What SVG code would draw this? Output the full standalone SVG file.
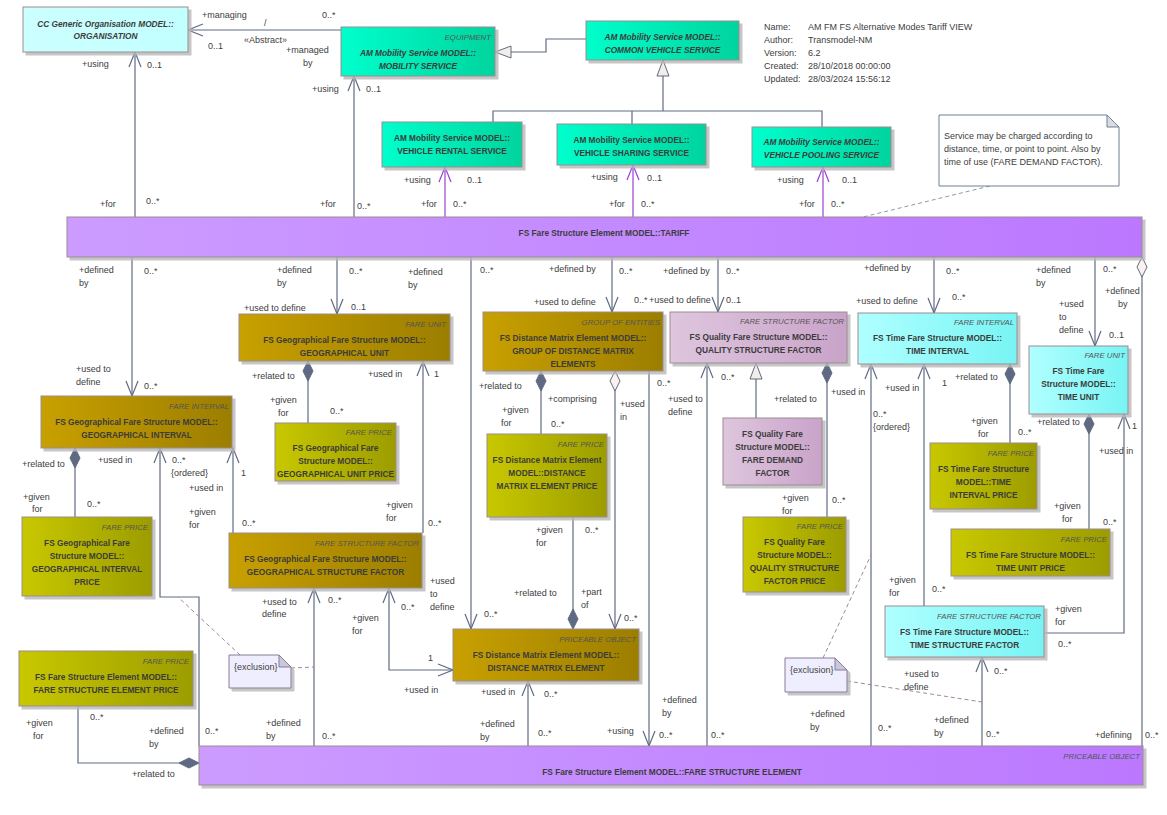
<svg xmlns="http://www.w3.org/2000/svg" width="1167" height="815" viewBox="0 0 1167 815">
<style>
.bx{stroke:#9c8c90;stroke-width:1;filter:url(#sh)}
.nm{font-family:"Liberation Sans",Arial,sans-serif;font-size:8.3px;font-weight:bold;fill:#3c3c3c;text-anchor:middle}
.it{font-style:italic}
.st{font-family:"Liberation Sans",Arial,sans-serif;font-size:7.8px;font-style:italic;fill:#555;text-anchor:end}
.l{font-family:"Liberation Sans",Arial,sans-serif;font-size:9px;fill:#404040}
.c{fill:none;stroke:#5f6a82;stroke-width:1.2}
.p{fill:none;stroke:#9a3fd6;stroke-width:1.2}
.d1{fill:none;stroke:#8a9aa8;stroke-width:1;stroke-dasharray:4,3}
.d2{fill:none;stroke:#a0889a;stroke-width:1;stroke-dasharray:4,3}
.ae{marker-end:url(#ao)}
.pe{marker-end:url(#po)}
.ds{marker-start:url(#df)}
</style>
<defs>
<filter id="sh" x="-5%" y="-5%" width="115%" height="130%"><feDropShadow dx="3" dy="3" stdDeviation="0.5" flood-color="#b8b8b8" flood-opacity="0.8"/></filter>
<linearGradient id="gOrg" x1="0" x2="1" y1="0" y2="0"><stop offset="0" stop-color="#ccffff"/><stop offset="1" stop-color="#c2ffff"/></linearGradient>
<linearGradient id="gMob" x1="0" x2="1" y1="0" y2="0"><stop offset="0" stop-color="#00ffcc"/><stop offset="1" stop-color="#00d49e"/></linearGradient>
<linearGradient id="gPur" x1="0" x2="1" y1="0" y2="0"><stop offset="0" stop-color="#cc9cff"/><stop offset="1" stop-color="#bb78ff"/></linearGradient>
<linearGradient id="gGold" x1="0" x2="1" y1="0" y2="0"><stop offset="0" stop-color="#c8a000"/><stop offset="1" stop-color="#9c7e00"/></linearGradient>
<linearGradient id="gPr" x1="0" x2="1" y1="0" y2="0"><stop offset="0" stop-color="#c8c800"/><stop offset="1" stop-color="#9c9c00"/></linearGradient>
<linearGradient id="gQ" x1="0" x2="1" y1="0" y2="0"><stop offset="0" stop-color="#dec6de"/><stop offset="1" stop-color="#c9a3c9"/></linearGradient>
<linearGradient id="gT" x1="0" x2="1" y1="0" y2="0"><stop offset="0" stop-color="#b0ffff"/><stop offset="1" stop-color="#78f4f4"/></linearGradient>
<marker id="ao" markerWidth="1" markerHeight="1" refX="0" refY="0" orient="auto" markerUnits="userSpaceOnUse" style="overflow:visible"><path d="M-15,-6 L0,0 L-15,6" fill="none" stroke="#5f6a82" stroke-width="1.2"/></marker>
<marker id="aos" markerWidth="1" markerHeight="1" refX="0" refY="0" orient="auto-start-reverse" markerUnits="userSpaceOnUse" style="overflow:visible"><path d="M-15,-6 L0,0 L-15,6" fill="none" stroke="#5f6a82" stroke-width="1.2"/></marker>
<marker id="po" markerWidth="1" markerHeight="1" refX="0" refY="0" orient="auto" markerUnits="userSpaceOnUse" style="overflow:visible"><path d="M-15,-6 L0,0 L-15,6" fill="none" stroke="#9a3fd6" stroke-width="1.2"/></marker>
<marker id="df" markerWidth="1" markerHeight="1" refX="0" refY="0" orient="auto" markerUnits="userSpaceOnUse" style="overflow:visible"><path d="M0,0 L10,-5 L20,0 L10,5 Z" fill="#5f6a82" stroke="#5f6a82" stroke-width="1"/></marker>
<marker id="dh" markerWidth="1" markerHeight="1" refX="0" refY="0" orient="auto" markerUnits="userSpaceOnUse" style="overflow:visible"><path d="M0,0 L10,-5 L20,0 L10,5 Z" fill="#fbf2f0" stroke="#5f6a82" stroke-width="1"/></marker>
<marker id="tr" markerWidth="1" markerHeight="1" refX="0" refY="0" orient="auto" markerUnits="userSpaceOnUse" style="overflow:visible"><path d="M0,0 L-16,-6 L-16,6 Z" fill="#f4ece8" stroke="#5f6a82" stroke-width="1"/></marker>
</defs>
<rect width="1167" height="815" fill="#ffffff"/>

<g id="connectors">
<path class="c ae" d="M341,30 L188,30"/>
<path class="c ae" d="M135,217 L135,52"/>
<path class="c ae" d="M354,217 L354,76"/>
<path class="p pe" d="M445,217 L445,167"/>
<path class="p pe" d="M633,217 L633,165"/>
<path class="p pe" d="M823,217 L823,167"/>
<path class="c" d="M586,39 L546,39 L546,52 L495,52" marker-end="url(#tr)"/>
<path class="c" d="M493,123 L493,111 L822,111 L822,127 M632,124 L632,111"/>
<path class="c" d="M663,111 L663,60" marker-end="url(#tr)"/>
<path class="c ae" d="M132,257 L132,396"/>
<path class="c ae" d="M337,257 L337,314"/>
<path class="c ds" d="M308,361 L308,423"/>
<path class="c ae" d="M423,533 L423,361"/>
<path class="c ae" d="M471,257 L471,629"/>
<path class="c ae" d="M199,746 L199,597 L160,597 L160,448"/>
<path class="c ds" d="M75,448 L75,517"/>
<path class="c ae" d="M233,533 L233,448"/>
<path class="c ae" d="M314,746 L314,588"/>
<path class="c ae" d="M389,588 L389,670 L453,670" marker-start="url(#aos)"/>
<path class="c ds" d="M541,371 L541,434"/>
<path class="c ae" d="M615,371 L615,629" marker-start="url(#dh)"/>
<path class="c ds" d="M573,629 L573,517"/>
<path class="c ae" d="M649,371 L649,746"/>
<path class="c ae" d="M612,257 L612,312"/>
<path class="c ae" d="M718,257 L718,312"/>
<path class="c ae" d="M707,746 L707,363"/>
<path class="c" d="M756,418 L756,363" marker-end="url(#tr)"/>
<path class="c ds" d="M827,363 L827,517"/>
<path class="c ae" d="M934,257 L934,313"/>
<path class="c ae" d="M1095,257 L1095,346"/>
<path class="c" d="M1142,257 L1142,746" marker-start="url(#dh)"/>
<path class="c ae" d="M871,746 L871,364"/>
<path class="c ae" d="M924,606 L924,364"/>
<path class="c ds" d="M1010,364 L1010,443"/>
<path class="c ds" d="M1089,414 L1089,529"/>
<path class="c ae" d="M1044,633 L1124,633 L1124,414"/>
<path class="c ae" d="M982,746 L982,657"/>
<path class="c ae" d="M528,746 L528,681"/>
<path class="c ds" d="M199,763 L78,763 L78,706"/>
<path class="d1" d="M990,186 L863,217"/>
<path class="d2" d="M240,655 L178,597 M291,668 L314,667"/>
<path class="d2" d="M823,658 L871,555 M847,681 L982,702"/>
</g>

<g id="connector-labels">
<text class="l" x="202" y="18">+managing</text><text class="l" x="264" y="26">/</text><text class="l" x="322" y="18">0..*</text>
<text class="l" x="244" y="43">«Abstract»</text><text class="l" x="208" y="49">0..1</text><text class="l" x="286" y="53">+managed</text><text class="l" x="303" y="66">by</text>
<text class="l" x="82" y="67">+using</text><text class="l" x="147" y="68">0..1</text><text class="l" x="100" y="207">+for</text><text class="l" x="146" y="204">0..*</text>
<text class="l" x="312" y="92">+using</text><text class="l" x="366" y="92">0..1</text><text class="l" x="320" y="207">+for</text><text class="l" x="357" y="209">0..*</text>
<text class="l" x="404" y="183">+using</text><text class="l" x="467" y="183">0..1</text><text class="l" x="421" y="207">+for</text><text class="l" x="453" y="207">0..*</text>
<text class="l" x="591" y="180">+using</text><text class="l" x="647" y="181">0..1</text><text class="l" x="609" y="207">+for</text><text class="l" x="641" y="207">0..*</text>
<text class="l" x="777" y="183">+using</text><text class="l" x="842" y="183">0..1</text><text class="l" x="799" y="207">+for</text><text class="l" x="831" y="207">0..*</text>
<text class="l" x="79" y="273">+defined</text><text class="l" x="79" y="286">by</text><text class="l" x="144" y="274">0..*</text>
<text class="l" x="76" y="372">+used to</text><text class="l" x="76" y="385">define</text><text class="l" x="144" y="389">0..*</text>
<text class="l" x="277" y="273">+defined</text><text class="l" x="277" y="286">by</text><text class="l" x="349" y="274">0..*</text>
<text class="l" x="244" y="311">+used to define</text><text class="l" x="351" y="310">0..1</text>
<text class="l" x="252" y="379">+related to</text><text class="l" x="270" y="403">+given</text><text class="l" x="278" y="416">for</text><text class="l" x="330" y="414">0..*</text>
<text class="l" x="368" y="377">+used in</text><text class="l" x="434" y="377">1</text><text class="l" x="386" y="508">+given</text><text class="l" x="386" y="521">for</text><text class="l" x="428" y="526">0..*</text>
<text class="l" x="408" y="275">+defined</text><text class="l" x="408" y="288">by</text><text class="l" x="480" y="273">0..*</text>
<text class="l" x="430" y="584">+used</text><text class="l" x="430" y="597">to</text><text class="l" x="430" y="610">define</text><text class="l" x="484" y="617">0..*</text>
<text class="l" x="98" y="463">+used in</text><text class="l" x="172" y="463">0..*</text><text class="l" x="171" y="476">{ordered}</text>
<text class="l" x="149" y="734">+defined</text><text class="l" x="149" y="747">by</text><text class="l" x="205" y="734">0..*</text>
<text class="l" x="22" y="467">+related to</text><text class="l" x="23" y="500">+given</text><text class="l" x="32" y="512">for</text><text class="l" x="87" y="507">0..*</text>
<text class="l" x="241" y="476">1</text><text class="l" x="189" y="491">+used in</text><text class="l" x="189" y="515">+given</text><text class="l" x="189" y="528">for</text><text class="l" x="242" y="526">0..*</text>
<text class="l" x="262" y="605">+used to</text><text class="l" x="262" y="617">define</text><text class="l" x="328" y="603">0..*</text>
<text class="l" x="266" y="726">+defined</text><text class="l" x="266" y="739">by</text><text class="l" x="322" y="739">0..*</text>
<text class="l" x="401" y="610">0..*</text><text class="l" x="352" y="621">+given</text><text class="l" x="352" y="634">for</text><text class="l" x="428" y="661">1</text><text class="l" x="404" y="693">+used in</text>
<text class="l" x="479" y="389">+related to</text><text class="l" x="548" y="402">+comprising</text><text class="l" x="502" y="413">+given</text><text class="l" x="501" y="426">for</text><text class="l" x="551" y="427">0..*</text>
<text class="l" x="620" y="407">+used</text><text class="l" x="620" y="420">in</text><text class="l" x="624" y="621">0..*</text>
<text class="l" x="536" y="533">+given</text><text class="l" x="536" y="546">for</text><text class="l" x="585" y="533">0..*</text>
<text class="l" x="514" y="596">+related to</text><text class="l" x="581" y="595">+part</text><text class="l" x="581" y="608">of</text>
<text class="l" x="657" y="386">0..*</text><text class="l" x="607" y="734">+using</text><text class="l" x="659" y="738">0..*</text>
<text class="l" x="549" y="272">+defined by</text><text class="l" x="619" y="274">0..*</text><text class="l" x="534" y="305">+used to define</text><text class="l" x="634" y="303">0..*</text>
<text class="l" x="663" y="274">+defined by</text><text class="l" x="726" y="274">0..*</text><text class="l" x="649" y="303">+used to define</text><text class="l" x="726" y="303">0..1</text>
<text class="l" x="721" y="380">0..*</text><text class="l" x="668" y="402">+used to</text><text class="l" x="668" y="415">define</text>
<text class="l" x="662" y="703">+defined</text><text class="l" x="662" y="716">by</text><text class="l" x="711" y="738">0..*</text>
<text class="l" x="774" y="402">+related to</text><text class="l" x="782" y="501">+given</text><text class="l" x="782" y="514">for</text><text class="l" x="832" y="503">0..*</text>
<text class="l" x="864" y="271">+defined by</text><text class="l" x="946" y="274">0..*</text><text class="l" x="856" y="304">+used to define</text><text class="l" x="952" y="300">0..*</text>
<text class="l" x="1036" y="273">+defined</text><text class="l" x="1036" y="286">by</text><text class="l" x="1103" y="272">0..*</text>
<text class="l" x="1059" y="307">+used</text><text class="l" x="1059" y="320">to</text><text class="l" x="1059" y="333">define</text><text class="l" x="1109" y="338">0..1</text>
<text class="l" x="1105" y="294">+defined</text><text class="l" x="1118" y="307">by</text><text class="l" x="1095" y="738">+defining</text><text class="l" x="1145" y="738">0..*</text>
<text class="l" x="831" y="395">+used in</text><text class="l" x="873" y="417">0..*</text><text class="l" x="873" y="430">{ordered}</text>
<text class="l" x="810" y="717">+defined</text><text class="l" x="810" y="730">by</text><text class="l" x="878" y="731">0..*</text>
<text class="l" x="885" y="391">+used in</text><text class="l" x="942" y="386">1</text><text class="l" x="889" y="583">+given</text><text class="l" x="889" y="596">for</text><text class="l" x="932" y="592">0..*</text>
<text class="l" x="955" y="380">+related to</text><text class="l" x="971" y="424">+given</text><text class="l" x="978" y="437">for</text><text class="l" x="1018" y="435">0..*</text>
<text class="l" x="1037" y="425">+related to</text><text class="l" x="1054" y="509">+given</text><text class="l" x="1062" y="522">for</text><text class="l" x="1103" y="525">0..*</text>
<text class="l" x="1132" y="429">1</text><text class="l" x="1099" y="454">+used in</text><text class="l" x="1055" y="612">+given</text><text class="l" x="1055" y="625">for</text><text class="l" x="1058" y="647">0..*</text>
<text class="l" x="904" y="677">+used to</text><text class="l" x="904" y="690">define</text><text class="l" x="994" y="674">0..*</text>
<text class="l" x="934" y="723">+defined</text><text class="l" x="934" y="736">by</text><text class="l" x="986" y="737">0..*</text>
<text class="l" x="481" y="695">+used in</text><text class="l" x="544" y="697">0..*</text><text class="l" x="480" y="727">+defined</text><text class="l" x="480" y="740">by</text><text class="l" x="538" y="736">0..*</text>
<text class="l" x="26" y="726">+given</text><text class="l" x="33" y="739">for</text><text class="l" x="90" y="720">0..*</text><text class="l" x="132" y="777">+related to</text>
</g>

<g id="info">
<text class="l" x="764" y="30">Name:</text><text class="l" x="808" y="30">AM FM FS Alternative Modes Tariff VIEW</text>
<text class="l" x="764" y="43">Author:</text><text class="l" x="808" y="43">Transmodel-NM</text>
<text class="l" x="764" y="56">Version:</text><text class="l" x="808" y="56">6.2</text>
<text class="l" x="764" y="69">Created:</text><text class="l" x="808" y="69">28/10/2018 00:00:00</text>
<text class="l" x="764" y="82">Updated:</text><text class="l" x="808" y="82">28/03/2024 15:56:12</text>
</g>

<g id="note-service">
<path d="M939,115 L1107,115 L1119,127 L1119,186 L939,186 Z" fill="#ffffff" stroke="#6f8090" stroke-width="1"/>
<path d="M1107,115 L1107,127 L1119,127 Z" fill="#d8dde4" stroke="#6f8090" stroke-width="1"/>
<text class="l" x="944" y="139">Service may be charged according to</text>
<text class="l" x="944" y="152">distance, time, or point to point. Also by</text>
<text class="l" x="944" y="165">time of use (FARE DEMAND FACTOR).</text>
</g>

<g id="organisation">
<rect class="bx" x="23" y="7" width="165" height="45" fill="url(#gOrg)"/>
<text class="nm it" x="105.5" y="27">CC Generic Organisation MODEL::</text>
<text class="nm it" x="105.5" y="39">ORGANISATION</text>
</g>
<g id="mobility-service">
<rect class="bx" x="341" y="27" width="154" height="49" fill="url(#gMob)"/>
<text class="st" x="491" y="40">EQUIPMENT</text>
<text class="nm it" x="418" y="56">AM Mobility Service MODEL::</text>
<text class="nm it" x="418" y="69">MOBILITY SERVICE</text>
</g>
<g id="common-vehicle-service">
<rect class="bx" x="586" y="21" width="153" height="39" fill="url(#gMob)"/>
<text class="nm it" x="662.5" y="40">AM Mobility Service MODEL::</text>
<text class="nm it" x="662.5" y="53">COMMON VEHICLE SERVICE</text>
</g>
<g id="vehicle-rental-service">
<rect class="bx" x="382" y="122" width="140" height="45" fill="url(#gMob)"/>
<text class="nm" x="452" y="141">AM Mobility Service MODEL::</text>
<text class="nm" x="452" y="154">VEHICLE RENTAL SERVICE</text>
</g>
<g id="vehicle-sharing-service">
<rect class="bx" x="557" y="124" width="149" height="41" fill="url(#gMob)"/>
<text class="nm" x="631.5" y="143">AM Mobility Service MODEL::</text>
<text class="nm" x="631.5" y="156">VEHICLE SHARING SERVICE</text>
</g>
<g id="vehicle-pooling-service">
<rect class="bx" x="752" y="127" width="139" height="40" fill="url(#gMob)"/>
<text class="nm it" x="821.5" y="145">AM Mobility Service MODEL::</text>
<text class="nm it" x="821.5" y="158">VEHICLE POOLING SERVICE</text>
</g>
<g id="tariff">
<rect class="bx" x="67" y="217" width="1075" height="40" fill="url(#gPur)"/>
<text class="nm" x="604" y="236">FS Fare Structure Element MODEL::TARIFF</text>
</g>
<g id="geographical-unit">
<rect class="bx" x="239" y="314" width="211" height="47" fill="url(#gGold)"/>
<text class="st" x="446" y="327">FARE UNIT</text>
<text class="nm" x="344.5" y="343">FS Geographical Fare Structure MODEL::</text>
<text class="nm" x="344.5" y="356">GEOGRAPHICAL UNIT</text>
</g>
<g id="geographical-interval">
<rect class="bx" x="41" y="396" width="191" height="52" fill="url(#gGold)"/>
<text class="st" x="229" y="409">FARE INTERVAL</text>
<text class="nm" x="136.5" y="425">FS Geographical Fare Structure MODEL::</text>
<text class="nm" x="136.5" y="438">GEOGRAPHICAL INTERVAL</text>
</g>
<g id="geographical-unit-price">
<rect class="bx" x="275" y="423" width="121" height="58" fill="url(#gPr)"/>
<text class="st" x="392" y="435">FARE PRICE</text>
<text class="nm" x="335.5" y="451">FS Geographical Fare</text>
<text class="nm" x="335.5" y="464">Structure MODEL::</text>
<text class="nm" x="335.5" y="477">GEOGRAPHICAL UNIT PRICE</text>
</g>
<g id="geographical-interval-price">
<rect class="bx" x="22" y="517" width="130" height="79" fill="url(#gPr)"/>
<text class="st" x="148" y="530">FARE PRICE</text>
<text class="nm" x="87" y="546">FS Geographical Fare</text>
<text class="nm" x="87" y="559">Structure MODEL::</text>
<text class="nm" x="87" y="572">GEOGRAPHICAL INTERVAL</text>
<text class="nm" x="87" y="585">PRICE</text>
</g>
<g id="geographical-structure-factor">
<rect class="bx" x="229" y="533" width="193" height="55" fill="url(#gGold)"/>
<text class="st" x="419" y="546">FARE STRUCTURE FACTOR</text>
<text class="nm" x="325.5" y="562">FS Geographical Fare Structure MODEL::</text>
<text class="nm" x="325.5" y="575">GEOGRAPHICAL STRUCTURE FACTOR</text>
</g>
<g id="fare-structure-element-price">
<rect class="bx" x="19" y="651" width="174" height="55" fill="url(#gPr)"/>
<text class="st" x="189" y="664">FARE PRICE</text>
<text class="nm" x="106" y="680">FS Fare Structure Element MODEL::</text>
<text class="nm" x="106" y="693">FARE STRUCTURE ELEMENT PRICE</text>
</g>
<g id="exclusion-1">
<path d="M229,655 L279,655 L291,667 L291,688 L229,688 Z" fill="#eeeeff" stroke="#8a7a96" stroke-width="1" filter="url(#sh)"/>
<path d="M279,655 L279,667 L291,667 Z" fill="#c8c8d8" stroke="#8a7a96" stroke-width="1"/>
<text class="l" x="234" y="670">{exclusion}</text>
</g>
<g id="fare-structure-element">
<rect class="bx" x="199" y="746" width="944" height="39" fill="url(#gPur)"/>
<text class="st" x="1140" y="759">PRICEABLE OBJECT</text>
<text class="nm" x="672" y="775">FS Fare Structure Element MODEL::FARE STRUCTURE ELEMENT</text>
</g>
<g id="group-of-distance-matrix-elements">
<rect class="bx" x="483" y="312" width="180" height="59" fill="url(#gGold)"/>
<text class="st" x="660" y="325">GROUP OF ENTITIES</text>
<text class="nm" x="573" y="341">FS Distance Matrix Element MODEL::</text>
<text class="nm" x="573" y="354">GROUP OF DISTANCE MATRIX</text>
<text class="nm" x="573" y="367">ELEMENTS</text>
</g>
<g id="quality-structure-factor">
<rect class="bx" x="670" y="312" width="177" height="51" fill="url(#gQ)"/>
<text class="st" x="844" y="324">FARE STRUCTURE FACTOR</text>
<text class="nm" x="758.5" y="340">FS Quality Fare Structure MODEL::</text>
<text class="nm" x="758.5" y="353">QUALITY STRUCTURE FACTOR</text>
</g>
<g id="fare-demand-factor">
<rect class="bx" x="723" y="418" width="99" height="67" fill="url(#gQ)"/>
<text class="nm" x="772.5" y="437">FS Quality Fare</text>
<text class="nm" x="772.5" y="450">Structure MODEL::</text>
<text class="nm" x="772.5" y="463">FARE DEMAND</text>
<text class="nm" x="772.5" y="476">FACTOR</text>
</g>
<g id="distance-matrix-element-price">
<rect class="bx" x="487" y="434" width="120" height="83" fill="url(#gPr)"/>
<text class="st" x="604" y="447">FARE PRICE</text>
<text class="nm" x="547" y="463">FS Distance Matrix Element</text>
<text class="nm" x="547" y="476">MODEL::DISTANCE</text>
<text class="nm" x="547" y="489">MATRIX ELEMENT PRICE</text>
</g>
<g id="quality-structure-factor-price">
<rect class="bx" x="743" y="517" width="103" height="75" fill="url(#gPr)"/>
<text class="st" x="843" y="529">FARE PRICE</text>
<text class="nm" x="794.5" y="545">FS Quality Fare</text>
<text class="nm" x="794.5" y="558">Structure MODEL::</text>
<text class="nm" x="794.5" y="571">QUALITY STRUCTURE</text>
<text class="nm" x="794.5" y="584">FACTOR PRICE</text>
</g>
<g id="distance-matrix-element">
<rect class="bx" x="453" y="629" width="186" height="52" fill="url(#gGold)"/>
<text class="st" x="636" y="642">PRICEABLE OBJECT</text>
<text class="nm" x="546" y="658">FS Distance Matrix Element MODEL::</text>
<text class="nm" x="546" y="671">DISTANCE MATRIX ELEMENT</text>
</g>
<g id="time-interval">
<rect class="bx" x="858" y="313" width="159" height="51" fill="url(#gT)"/>
<text class="st" x="1014" y="325">FARE INTERVAL</text>
<text class="nm" x="937.5" y="341">FS Time Fare Structure MODEL::</text>
<text class="nm" x="937.5" y="354">TIME INTERVAL</text>
</g>
<g id="time-unit">
<rect class="bx" x="1029" y="346" width="99" height="68" fill="url(#gT)"/>
<text class="st" x="1125" y="358">FARE UNIT</text>
<text class="nm" x="1078.5" y="374">FS Time Fare</text>
<text class="nm" x="1078.5" y="387">Structure MODEL::</text>
<text class="nm" x="1078.5" y="400">TIME UNIT</text>
</g>
<g id="time-interval-price">
<rect class="bx" x="930" y="443" width="107" height="66" fill="url(#gPr)"/>
<text class="st" x="1034" y="456">FARE PRICE</text>
<text class="nm" x="983.5" y="472">FS Time Fare Structure</text>
<text class="nm" x="983.5" y="485">MODEL::TIME</text>
<text class="nm" x="983.5" y="498">INTERVAL PRICE</text>
</g>
<g id="time-unit-price">
<rect class="bx" x="951" y="529" width="159" height="47" fill="url(#gPr)"/>
<text class="st" x="1107" y="542">FARE PRICE</text>
<text class="nm" x="1030.5" y="558">FS Time Fare Structure MODEL::</text>
<text class="nm" x="1030.5" y="571">TIME UNIT PRICE</text>
</g>
<g id="time-structure-factor">
<rect class="bx" x="885" y="606" width="159" height="51" fill="url(#gT)"/>
<text class="st" x="1041" y="619">FARE STRUCTURE FACTOR</text>
<text class="nm" x="964.5" y="635">FS Time Fare Structure MODEL::</text>
<text class="nm" x="964.5" y="648">TIME STRUCTURE FACTOR</text>
</g>
<g id="exclusion-2">
<path d="M785,658 L835,658 L847,670 L847,692 L785,692 Z" fill="#eeeeff" stroke="#8a7a96" stroke-width="1" filter="url(#sh)"/>
<path d="M835,658 L835,670 L847,670 Z" fill="#c8c8d8" stroke="#8a7a96" stroke-width="1"/>
<text class="l" x="790" y="673">{exclusion}</text>
</g>
</svg>
